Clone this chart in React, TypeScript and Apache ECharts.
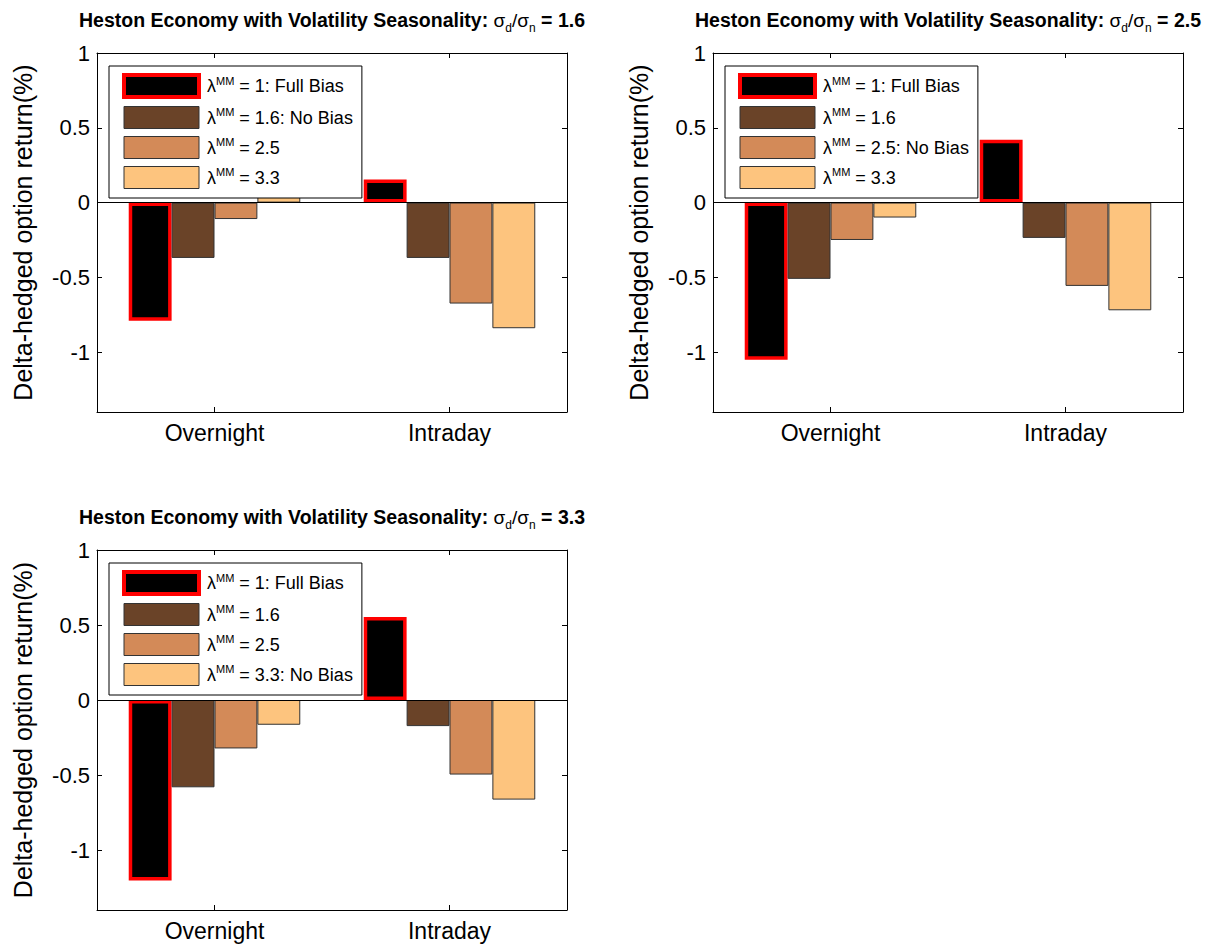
import React, { useEffect, useRef } from "react";
import * as echarts from "echarts";

// ---------- data ----------
const categories = ["Overnight", "Intraday"];
const yAxisTitle = "Delta-hedged option return(%)";
const titlePrefix = "Heston Economy with Volatility Seasonality: ";

// Panel 1: sigma_d / sigma_n = 1.6
const p1Ratio = "1.6";
const p1Labels = ["= 1: Full Bias", "= 1.6: No Bias", "= 2.5", "= 3.3"];
const p1Lam1 = [-0.79, 0.155];
const p1Lam16 = [-0.37, -0.37];
const p1Lam25 = [-0.11, -0.675];
const p1Lam33 = [0.04, -0.84];

// Panel 2: sigma_d / sigma_n = 2.5
const p2Ratio = "2.5";
const p2Labels = ["= 1: Full Bias", "= 1.6", "= 2.5: No Bias", "= 3.3"];
const p2Lam1 = [-1.05, 0.42];
const p2Lam16 = [-0.51, -0.236];
const p2Lam25 = [-0.25, -0.557];
const p2Lam33 = [-0.1, -0.72];

// Panel 3: sigma_d / sigma_n = 3.3
const p3Ratio = "3.3";
const p3Labels = ["= 1: Full Bias", "= 1.6", "= 2.5", "= 3.3: No Bias"];
const p3Lam1 = [-1.204, 0.553];
const p3Lam16 = [-0.582, -0.174];
const p3Lam25 = [-0.323, -0.497];
const p3Lam33 = [-0.165, -0.664];

const yMin = -1.4;
const yMax = 1;

// ---------- styles / layout ----------
const FONT = "'Liberation Sans', Arial, Helvetica, sans-serif";
const barColors = ["#000000", "#6a4328", "#d38a58", "#fdc47e"];
const edgeColor = "#333333";
const biasRed = "#ff0000";

const panels = [
  {
    ratio: p1Ratio,
    labels: p1Labels,
    values: [p1Lam1, p1Lam16, p1Lam25, p1Lam33],
    grid: { left: 97, top: 53, width: 470, height: 359 },
    titleTop: 6,
    legendPos: { left: 109, top: 66 },
  },
  {
    ratio: p2Ratio,
    labels: p2Labels,
    values: [p2Lam1, p2Lam16, p2Lam25, p2Lam33],
    grid: { left: 713, top: 53, width: 470, height: 359 },
    titleTop: 6,
    legendPos: { left: 725, top: 66 },
  },
  {
    ratio: p3Ratio,
    labels: p3Labels,
    values: [p3Lam1, p3Lam16, p3Lam25, p3Lam33],
    grid: { left: 97, top: 550, width: 470, height: 360 },
    titleTop: 503,
    legendPos: { left: 109, top: 563 },
  },
];

function seriesName(label: string) {
  return "λMM " + label;
}

function buildOption() {
  const grid: any[] = [];
  const xAxis: any[] = [];
  const yAxis: any[] = [];
  const series: any[] = [];
  const title: any[] = [];
  const legend: any[] = [];

  panels.forEach((p, i) => {
    grid.push({ ...p.grid, show: false, containLabel: false });
    const cx = p.grid.left + p.grid.width / 2;

    title.push({
      text: `${titlePrefix}{sg|σ}{sub|d}{sg|/σ}{sub|n}{m| = ${p.ratio}}`,
      left: cx,
      top: p.titleTop,
      textAlign: "center",
      padding: 0,
      textStyle: {
        fontFamily: FONT,
        fontSize: 19.5,
        fontWeight: "bold",
        color: "#000",
        lineHeight: 28,
        rich: {
          m: { fontFamily: FONT, fontSize: 19.5, fontWeight: "bold", color: "#000", lineHeight: 28 },
          sg: { fontFamily: FONT, fontSize: 19, fontWeight: "normal", color: "#000", lineHeight: 28 },
          sub: {
            fontFamily: FONT,
            fontSize: 12,
            fontWeight: "normal",
            color: "#000",
            lineHeight: 13,
            verticalAlign: "bottom",
          },
        },
      },
    });

    // bottom category axis
    xAxis.push({
      type: "category",
      gridIndex: i,
      data: categories,
      position: "bottom",
      boundaryGap: true,
      axisLine: { show: true, onZero: false, lineStyle: { color: "#000", width: 1 } },
      axisTick: { show: true, inside: true, alignWithLabel: true, length: 5, lineStyle: { color: "#000" } },
      axisLabel: { show: true, fontFamily: FONT, fontSize: 23, color: "#000", margin: 9 },
      splitLine: { show: false },
    });
    // left value axis
    yAxis.push({
      type: "value",
      gridIndex: i,
      position: "left",
      min: yMin,
      max: yMax,
      splitNumber: 5,
      name: yAxisTitle,
      nameLocation: "middle",
      nameRotate: 90,
      nameGap: 62,
      nameTextStyle: { fontFamily: FONT, fontSize: 25, color: "#000" },
      axisLine: { show: true, onZero: false, lineStyle: { color: "#000", width: 1 } },
      axisTick: { show: true, inside: true, length: 5, lineStyle: { color: "#000" } },
      axisLabel: { show: true, showMinLabel: false, fontFamily: FONT, fontSize: 22, color: "#000", margin: 7 },
      splitLine: { show: false },
    });

    const names = p.labels.map(seriesName);
    p.values.forEach((vals, k) => {
      series.push({
        type: "bar",
        name: names[k],
        xAxisIndex: i,
        yAxisIndex: i,
        data: vals,
        barGap: "0%",
        barCategoryGap: "27%",
        itemStyle:
          k === 0
            ? { color: barColors[0], borderColor: biasRed, borderWidth: 3.5 }
            : { color: barColors[k], borderColor: edgeColor, borderWidth: 1 },
        emphasis: { disabled: true },
      });
    });
    // zero baseline drawn on top of the bars
    series.push({
      type: "line",
      name: "__zero" + i,
      xAxisIndex: i,
      yAxisIndex: i,
      data: [],
      silent: true,
      markLine: {
        silent: true,
        symbol: "none",
        label: { show: false },
        lineStyle: { color: "#000", width: 1, type: "solid" },
        data: [{ yAxis: 0 }],
      },
    });

    legend.push({
      show: true,
      ...p.legendPos,
      orient: "vertical",
      icon: "rect",
      itemWidth: 75,
      itemHeight: 22,
      itemGap: 7,
      padding: [7, 9, 9, 13],
      backgroundColor: "#fff",
      borderColor: "#000",
      borderWidth: 1,
      selectedMode: false,
      data: names.map((nm, k) => ({
        name: nm,
        itemStyle:
          k === 0
            ? { color: barColors[0], borderColor: biasRed, borderWidth: 4 }
            : { color: barColors[k], borderColor: edgeColor, borderWidth: 1 },
      })),
      formatter: (name: string) => `{l|λ}{s|MM}{t| ${name.replace("λMM ", "")}}`,
      textStyle: {
        fontFamily: FONT,
        fontSize: 18,
        color: "#000",
        rich: {
          l: { fontFamily: FONT, fontSize: 18, color: "#000", lineHeight: 22, padding: [0, 0, 0, 3] },
          s: { fontFamily: FONT, fontSize: 11, color: "#000", lineHeight: 12, verticalAlign: "top" },
          t: { fontFamily: FONT, fontSize: 18, color: "#000", lineHeight: 22 },
        },
      },
    });
  });

  // top and right mirror axes (box with inward ticks)
  panels.forEach((p, i) => {
    xAxis.push({
      type: "category",
      gridIndex: i,
      data: categories,
      position: "top",
      boundaryGap: true,
      axisLine: { show: true, onZero: false, lineStyle: { color: "#000", width: 1 } },
      axisTick: { show: true, inside: true, alignWithLabel: true, length: 5, lineStyle: { color: "#000" } },
      axisLabel: { show: false },
      splitLine: { show: false },
    });
    yAxis.push({
      type: "value",
      gridIndex: i,
      position: "right",
      min: yMin,
      max: yMax,
      splitNumber: 5,
      axisLine: { show: true, onZero: false, lineStyle: { color: "#000", width: 1 } },
      axisTick: { show: true, inside: true, length: 5, lineStyle: { color: "#000" } },
      axisLabel: { show: false },
      splitLine: { show: false },
    });
  });

  return {
    animation: false,
    backgroundColor: "#ffffff",
    textStyle: { fontFamily: FONT },
    title,
    legend,
    grid,
    xAxis,
    yAxis,
    series,
  };
}

export default function App() {
  const ref = useRef<HTMLDivElement>(null);
  useEffect(() => {
    if (!ref.current) return;
    const chart = echarts.init(ref.current, undefined, { renderer: "svg" });
    chart.setOption(buildOption() as any);
    return () => chart.dispose();
  }, []);
  return (
    <div
      ref={ref}
      style={{ position: "fixed", left: 0, top: 0, width: 1210, height: 947, background: "#fff" }}
    />
  );
}
